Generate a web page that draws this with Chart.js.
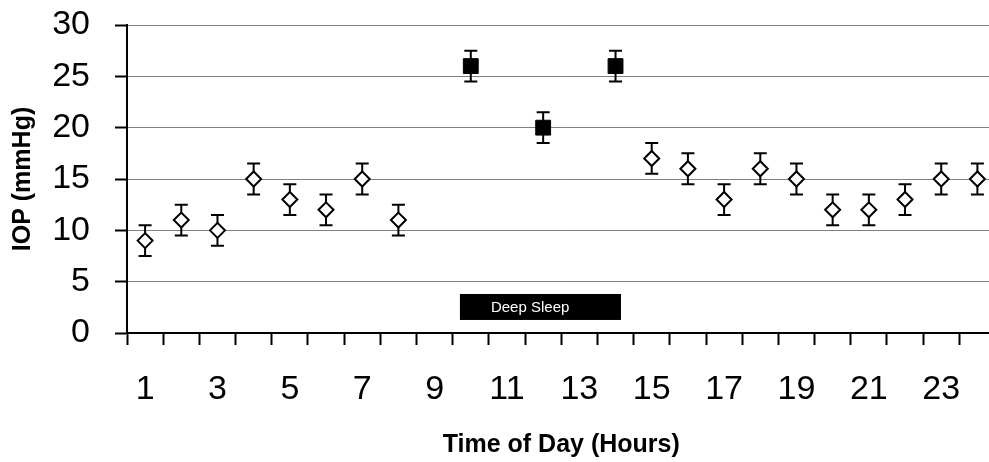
<!DOCTYPE html>
<html>
<head>
<meta charset="utf-8">
<script src="https://cdn.jsdelivr.net/npm/chart.js@4.4.1/dist/chart.umd.min.js"></script>
<style>
  html, body { margin: 0; padding: 0; background: #fff; overflow: hidden; }
  canvas { display: block; }
</style>
</head>
<body>
<canvas id="iopChart" width="1007" height="462"></canvas>
<script>
// Hour of day (x categories)
const hours = ['1','2','3','4','5','6','7','8','9','10','11','12',
               '13','14','15','16','17','18','19','20','21','22','23','24'];

// Mean IOP (mmHg) while awake / sitting
const awakeIOP = [9, 11, 10, 15, 13, 12, 15, 11, null, null, null, null,
                  null, null, 17, 16, 13, 16, 15, 12, 12, 13, 15, 15];

// Mean IOP (mmHg) during deep sleep
const sleepIOP = [null, null, null, null, null, null, null, null, null, 26, null, 20,
                  null, 26, null, null, null, null, null, null, null, null, null, null];

// Standard deviation of each hourly mean (mmHg)
const iopSD = [1.5, 1.5, 1.5, 1.5, 1.5, 1.5, 1.5, 1.5, null, 1.5, null, 1.5,
               null, 1.5, 1.5, 1.5, 1.5, 1.5, 1.5, 1.5, 1.5, 1.5, 1.5, 1.5];

// Y-axis tick values
const yTicks = [0, 5, 10, 15, 20, 25, 30];

// Deep sleep period shown as a labelled band (hours / mmHg)
const sleepBand = { label: 'Deep Sleep', fromHour: 9.7, toHour: 14.15, low: 1.27, high: 3.8 };

const FONT = "'Liberation Sans', Arial, Helvetica, sans-serif";
Chart.defaults.font.family = FONT;
Chart.defaults.color = '#000';

// Vertical error bars with caps, drawn beneath the markers
const errorBars = {
  id: 'errorBars',
  beforeDatasetsDraw(chart) {
    const { ctx, scales: { y } } = chart;
    ctx.save();
    ctx.strokeStyle = '#000';
    ctx.lineWidth = 2;
    chart.data.datasets.forEach((ds, di) => {
      const meta = chart.getDatasetMeta(di);
      meta.data.forEach((pt, i) => {
        const v = ds.data[i];
        const sd = iopSD[i];
        if (v == null || sd == null) return;
        const x = pt.x;
        const yTop = y.getPixelForValue(v + sd);
        const yBot = y.getPixelForValue(v - sd);
        const cap = 6.5;
        ctx.beginPath();
        ctx.moveTo(x, yTop); ctx.lineTo(x, yBot);
        ctx.moveTo(x - cap, yTop); ctx.lineTo(x + cap, yTop);
        ctx.moveTo(x - cap, yBot); ctx.lineTo(x + cap, yBot);
        ctx.stroke();
      });
    });
    ctx.restore();
  }
};

// Black band marking the deep sleep hours
const sleepBandPlugin = {
  id: 'sleepBand',
  beforeDatasetsDraw(chart) {
    const { ctx, scales: { x, y } } = chart;
    const left = x.getPixelForValue(sleepBand.fromHour - 1);
    const right = x.getPixelForValue(sleepBand.toHour - 1);
    const top = y.getPixelForValue(sleepBand.high);
    const bottom = y.getPixelForValue(sleepBand.low);
    ctx.save();
    ctx.fillStyle = '#000';
    ctx.fillRect(left, top, right - left, bottom - top);
    ctx.fillStyle = '#fff';
    ctx.font = '15px ' + FONT;
    ctx.textAlign = 'left';
    ctx.textBaseline = 'middle';
    ctx.fillText(sleepBand.label, left + 31, (top + bottom) / 2 + 1);
    ctx.restore();
  }
};

new Chart(document.getElementById('iopChart'), {
  type: 'line',
  data: {
    labels: hours,
    datasets: [
      {
        label: 'Awake',
        data: awakeIOP,
        showLine: false,
        pointStyle: 'rectRot',
        pointRadius: 7.5,
        pointBorderWidth: 2,
        pointBackgroundColor: '#fff',
        pointBorderColor: '#000'
      },
      {
        label: 'Deep sleep',
        data: sleepIOP,
        showLine: false,
        pointStyle: 'rect',
        pointRadius: 10.5,
        pointBorderWidth: 1,
        pointBackgroundColor: '#000',
        pointBorderColor: '#000'
      }
    ]
  },
  options: {
    responsive: false,
    animation: false,
    events: [],
    layout: { padding: { top: 25, right: 1, bottom: 0, left: 0 } },
    plugins: {
      legend: { display: false },
      tooltip: { enabled: false }
    },
    scales: {
      x: {
        type: 'category',
        offset: true,
        afterFit(scale) {
          scale.height = 129;
          scale.paddingLeft = 0;
          scale.paddingRight = 0;
        },
        grid: {
          offset: true,
          drawOnChartArea: false,
          drawTicks: true,
          tickLength: 12,
          tickColor: '#000',
          tickWidth: 2
        },
        border: { color: '#000', width: 2 },
        ticks: {
          autoSkip: false,
          maxRotation: 0,
          minRotation: 0,
          padding: 24,
          font: { size: 34 },
          color: '#000',
          callback(val, idx) { return idx % 2 === 0 ? hours[idx] : ''; }
        },
        title: {
          display: true,
          text: 'Time of Day (Hours)',
          font: { size: 25, weight: 'bold' },
          color: '#000',
          padding: { top: 0, bottom: 2 }
        }
      },
      y: {
        min: 0,
        max: 30,
        afterFit(scale) {
          scale.width = 127;
          scale.paddingTop = 0;
          scale.paddingBottom = 0;
        },
        afterBuildTicks(scale) { scale.ticks = yTicks.map(v => ({ value: v })); },
        grid: {
          color: '#808080',
          lineWidth: 1,
          tickLength: 12,
          tickColor: '#000',
          tickWidth: 2
        },
        border: { color: '#000', width: 2 },
        ticks: {
          padding: 25,
          font: { size: 34 },
          color: '#000'
        },
        title: {
          display: true,
          text: 'IOP (mmHg)',
          font: { size: 25, weight: 'bold' },
          color: '#000',
          padding: { top: 8, bottom: 0 }
        }
      }
    }
  },
  plugins: [sleepBandPlugin, errorBars]
});
</script>
</body>
</html>
